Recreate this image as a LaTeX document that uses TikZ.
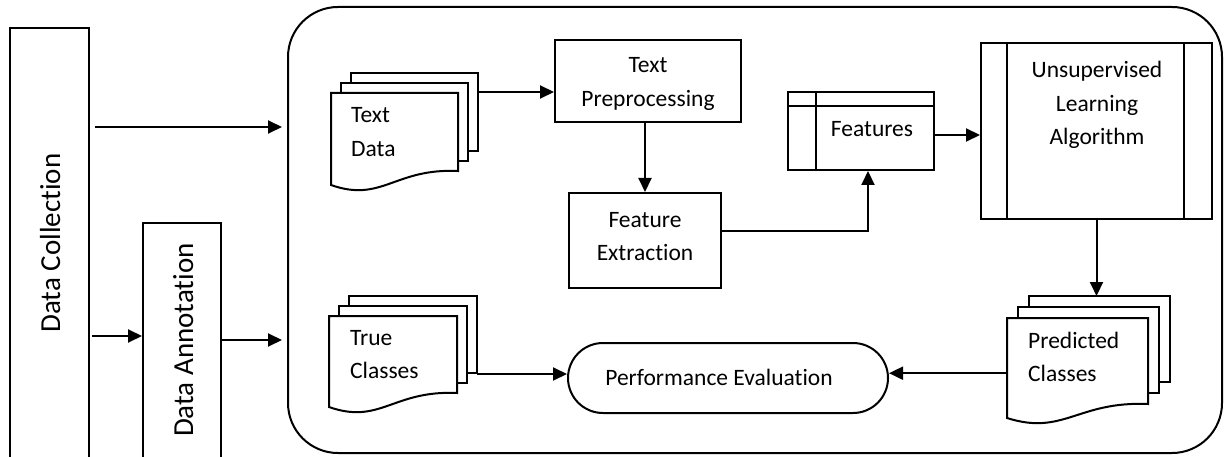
\documentclass[tikz,border=0pt]{standalone}
\usepackage{fontspec}
\setmainfont{Carlito}[Ligatures=NoCommon]
\usetikzlibrary{arrows.meta}
\tikzset{
  every node/.style={font=\fontsize{23.5}{33.5}\selectfont},
  boxshape/.style={draw, line width=2pt, inner sep=0pt},
  lbl/.style={inner sep=0pt},
  biglbl/.style={inner sep=0pt, rotate=90, anchor=base, font=\fontsize{29}{34}\selectfont},
  arr/.style={line width=2pt, -{Triangle[length=14pt,width=13pt]}},
  docline/.style={line width=2pt},
}
\newcommand\CLines[1]{\parbox[t]{6cm}{\centering #1}}
\newcommand\LLines[1]{\parbox[t]{4cm}{\raggedright #1}}
% name, x, y (top-left of front page), width, left height, offset
\newcommand\MultiDocShape[6]{%
  \draw[docline] (#2+2*#6,#3-#6) -- (#2+2*#6,#3-2*#6) -- (#2+#4+2*#6,#3-2*#6)
     -- (#2+#4+2*#6,#3+#5-14-2*#6) -- (#2+#4+#6,#3+#5-14-2*#6);
  \draw[docline] (#2+#6,#3) -- (#2+#6,#3-#6) -- (#2+#4+#6,#3-#6)
     -- (#2+#4+#6,#3+#5-14-#6) -- (#2+#4,#3+#5-14-#6);
  \draw[docline] (#2,#3) -- (#2+#4,#3) -- (#2+#4,#3+#5-14)
     .. controls (#2+0.5*#4,#3+#5-17) and (#2+0.4*#4,#3+#5+18) .. (#2,#3+#5) -- cycle;
  \node[inner sep=0pt, minimum width=#4, minimum height=#5, anchor=north west] (#1) at (#2,#3) {};
  \coordinate (#1top) at (#2+2*#6,#3-2*#6);
}
\begin{document}
\begin{tikzpicture}[x=1pt,y=-1pt]
\useasboundingbox (0,0) rectangle (1225,457);
\clip (0,0) rectangle (1225,457);

% left column boxes
\node[boxshape, minimum width=79, minimum height=442] (dc) at (49.5,249) {};
\node[biglbl] (dct) at (60,243) {Data Collection};
\node[boxshape, minimum width=78, minimum height=247] (da) at (182,346.5) {};
\node[biglbl] (dat) at (193,340) {Data Annotation};

% big rounded container
\node[boxshape, rounded corners=50pt, minimum width=934, minimum height=446] (big) at (755,230) {};

% process boxes
\node[boxshape, minimum width=186, minimum height=82] (tp) at (648,81) {};
\node[lbl, anchor=base] (tpt) at (648,73) {\CLines{Text\\Preprocessing}};

\node[boxshape, minimum width=152, minimum height=95] (fe) at (645,240.5) {};
\node[lbl, anchor=base] (fet) at (645,227) {\CLines{Feature\\Extraction}};

\node[boxshape, minimum width=146, minimum height=78] (feat) at (861,131) {};
\draw[docline] ([yshift=-15pt]feat.north west) -- ([yshift=-15pt]feat.north east);
\draw[docline] ([xshift=29pt]feat.north west) -- ([xshift=29pt]feat.south west);
\node[lbl, anchor=base] (featt) at (872,137) {Features};

\node[boxshape, minimum width=231, minimum height=176] (ul) at (1096.5,131) {};
\draw[docline] ([xshift=27pt]ul.north west) -- ([xshift=27pt]ul.south west);
\draw[docline] ([xshift=-29pt]ul.north east) -- ([xshift=-29pt]ul.south east);
\node[lbl, anchor=base] (ult) at (1097,78) {\CLines{Unsupervised\\Learning\\Algorithm}};

\node[boxshape, rounded corners=35pt, minimum width=320, minimum height=70] (pe) at (728,378) {};
\node[lbl, anchor=base] (pet) at (719,385) {Performance Evaluation};

% multi-document shapes
\MultiDocShape{td}{331}{93}{127}{92}{10}
\node[lbl, anchor=base west] (tdt) at (351,123) {\LLines{Text\\Data}};
\MultiDocShape{tc}{329}{316}{128}{91}{10}
\node[lbl, anchor=base west] (tct) at (350,345) {\LLines{True\\Classes}};
\MultiDocShape{pc}{1007}{318}{141}{100}{11}
\node[lbl, anchor=base west] (pct) at (1028,348) {\LLines{Predicted\\Classes}};

% helper coordinates
\coordinate (y1) at (0,127);
\coordinate (y2) at (0,336);
\coordinate (y3) at (0,340);
\coordinate (tdout) at (478,92);
\coordinate (tcout) at (477,374);
\coordinate (fxbend) at (868,231);

% connectors
\draw[arr] ([xshift=5pt]dc.east |- y1) -- ([xshift=-5pt]big.west |- y1);
\draw[arr] ([xshift=2pt]dc.east |- y2) -- (da.west |- y2);
\draw[arr] (da.east |- y3) -- ([xshift=-5pt]big.west |- y3);
\draw[arr] (tdout) -- (tdout -| tp.west);
\draw[arr] (tp.south -| fe.north) -- (fe.north);
\draw[arr] (fe.east |- fxbend) -- (fxbend) -- (fxbend |- feat.south);
\draw[arr] ([yshift=-4pt]feat.east) -- ([yshift=-4pt]feat.east -| ul.west);
\draw[arr] (ul.south) -- (ul.south |- pctop);
\draw[arr] ([yshift=-5pt]pc.west) -- ([yshift=-5pt]pc.west -| pe.east);
\draw[arr] (tcout) -- (tcout -| pe.west);
\end{tikzpicture}
\end{document}
